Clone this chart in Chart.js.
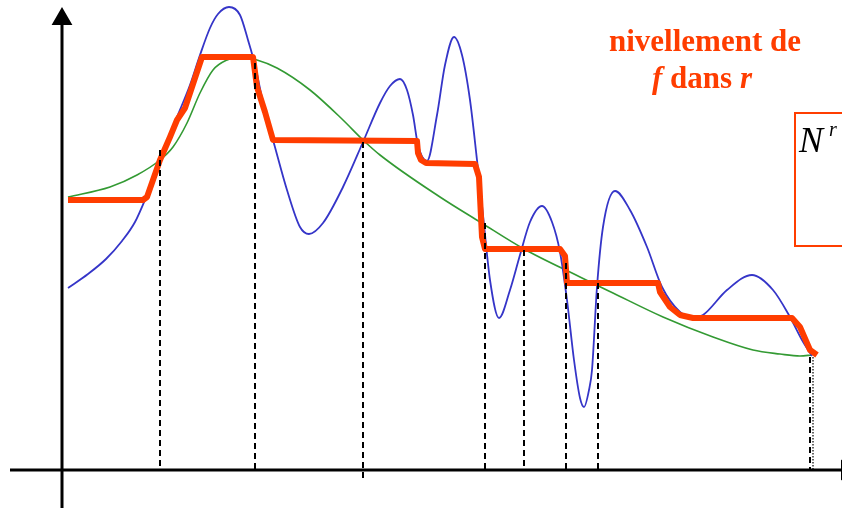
<!DOCTYPE html>
<html>
<head>
<meta charset="utf-8">
<script src="https://cdn.jsdelivr.net/npm/chart.js@4.4.0/dist/chart.umd.min.js"></script>
<style>
  body { margin: 0; background: #fff; }
  #wrap { width: 842px; height: 511px; }
</style>
</head>
<body>
<div id="wrap"><canvas id="graph_1"></canvas></div>
<script>
// origin = where the two axes cross; x to the right, y upwards

// f : the original function (blue)
var fX = [6, 26, 44, 60, 73, 85, 98, 113, 128, 138, 148, 156, 167, 178, 186, 193, 203, 211, 225, 238, 247,
          261, 281, 301, 318, 328, 338, 345, 351, 356, 365, 375, 383, 392, 400, 408, 415, 421, 428, 437,
          448, 458, 468, 480, 490, 498, 505, 512, 518, 522, 527, 530, 535, 541, 553, 568, 585, 600, 618,
          631, 641, 665, 690, 711, 728, 740, 750];
var fY = [182, 196, 211, 229, 248, 275, 308, 348, 385, 415, 442, 456, 463, 455, 430, 405, 358, 330, 280, 243, 236,
          247, 283, 328, 367, 384, 391, 380, 355, 325, 309, 355, 405, 433, 415, 370, 310, 255, 190, 152,
          180, 215, 248, 264, 248, 218, 170, 110, 72, 63, 80, 100, 183, 243, 279, 260, 223, 183, 158,
          152, 155, 180, 195, 180, 153, 130, 114];

// r : the marker / smooth reference (green)
var rX = [6, 48, 75, 98, 111, 125, 138, 151, 165, 178, 195, 215, 248, 281, 301, 318, 378, 418, 462, 518, 551, 601, 651, 691, 718, 738, 750];
var rY = [273, 283, 295, 310, 323, 347, 377, 400, 410, 413, 410, 402, 380, 350, 330, 315, 273, 248, 221, 193, 177, 153, 133, 120, 116, 114, 115];

// nivellement de f dans r (orange-red)
var nX = [6, 81, 85, 98, 108, 115, 123, 140, 191, 195, 203, 211, 355, 356, 359, 364, 413, 417, 420, 423,
          498, 503, 505, 596, 598, 608, 618, 631, 730, 738, 748, 755];
var nY = [270, 270, 273, 310, 333, 350, 362, 413, 413, 383, 358, 330, 329, 317, 310, 307, 306, 293, 233, 221,
          221, 214, 187, 187, 178, 163, 155, 152, 152, 143, 120, 115];

// vertical dashed markers: x position, top, bottom
var cutX = [98, 193, 301, 423, 462, 504, 536, 748];
var cutTop = [320, 407, 328, 247, 220, 207, 187, 113];
var cutBottom = [0, 0, -10, 0, 0, 0, 0, 0];

var titleLine1 = 'nivellement de';
var titleLine2 = [['f', true], [' dans ', false], ['r', true]];

var RED = '#ff3d00';
var BLUE = '#3535c8';
var GREEN = '#339a33';

function pts(xs, ys) {
  var out = [];
  for (var i = 0; i < xs.length; i++) out.push({x: xs[i], y: ys[i]});
  return out;
}

var datasets = [];

// axes
datasets.push({
  data: [{x: 0, y: -38}, {x: 0, y: 451}],
  borderColor: '#000', backgroundColor: '#000', borderWidth: 3,
  pointRadius: [0, 9], pointStyle: 'triangle', pointRotation: 0, clip: false
});
datasets.push({
  data: [{x: -52, y: 0}, {x: 785, y: 0}],
  borderColor: '#000', backgroundColor: '#000', borderWidth: 3,
  pointRadius: [0, 9], pointStyle: 'triangle', pointRotation: 90, clip: false
});

// dashed cuts
for (var i = 0; i < cutX.length; i++) {
  datasets.push({
    data: [{x: cutX[i], y: cutTop[i]}, {x: cutX[i], y: cutBottom[i]}],
    borderColor: '#000', borderWidth: 2, borderDash: [6, 4], pointRadius: 0
  });
}
datasets.push({
  data: [{x: 751, y: 113}, {x: 751, y: 0}],
  borderColor: '#000', borderWidth: 1.2, borderDash: [1.5, 1.5], pointRadius: 0
});

datasets.push({
  data: pts(nX, nY), borderColor: RED, borderWidth: 6, tension: 0,
  borderJoinStyle: 'round', borderCapStyle: 'butt', pointRadius: 0
});
datasets.push({
  data: pts(fX, fY), borderColor: BLUE, borderWidth: 1.8,
  cubicInterpolationMode: 'monotone', pointRadius: 0
});
datasets.push({
  data: pts(rX, rY), borderColor: GREEN, borderWidth: 1.6,
  cubicInterpolationMode: 'monotone', pointRadius: 0
});

var textPlugin = {
  id: 'labels',
  afterDraw: function(chart) {
    var ctx = chart.ctx;
    ctx.save();
    ctx.fillStyle = RED;
    ctx.textBaseline = 'alphabetic';
    ctx.textAlign = 'center';
    ctx.font = 'bold 31px "Liberation Serif"';
    ctx.fillText(titleLine1, 705, 51);

    // second line, mixed italic
    var total = 0;
    titleLine2.forEach(function(s) {
      ctx.font = (s[1] ? 'italic ' : '') + 'bold 31px "Liberation Serif"';
      total += ctx.measureText(s[0]).width;
    });
    var x = 702 - total / 2;
    ctx.textAlign = 'left';
    titleLine2.forEach(function(s) {
      ctx.font = (s[1] ? 'italic ' : '') + 'bold 31px "Liberation Serif"';
      ctx.fillText(s[0], x, 88);
      x += ctx.measureText(s[0]).width;
    });

    // boxed formula, cut by the right edge
    ctx.strokeStyle = RED;
    ctx.lineWidth = 2;
    ctx.strokeRect(795, 113, 80, 133);
    ctx.fillStyle = '#000';
    ctx.font = 'italic 36px "Liberation Serif"';
    ctx.fillText('N', 799, 152);
    ctx.font = 'italic 20px "Liberation Serif"';
    ctx.fillText('r', 829, 136);
    ctx.restore();
  }
};

new Chart(document.getElementById('graph_1'), {
  type: 'scatter',
  data: { datasets: datasets },
  options: {
    responsive: true,
    maintainAspectRatio: false,
    animation: false,
    showLine: true,
    layout: { padding: 0, autoPadding: false },
    plugins: { legend: { display: false }, tooltip: { enabled: false } },
    scales: {
      x: { type: 'linear', min: -62, max: 780, display: false },
      y: { type: 'linear', min: -41, max: 470, display: false }
    }
  },
  plugins: [textPlugin]
});
</script>
</body>
</html>
